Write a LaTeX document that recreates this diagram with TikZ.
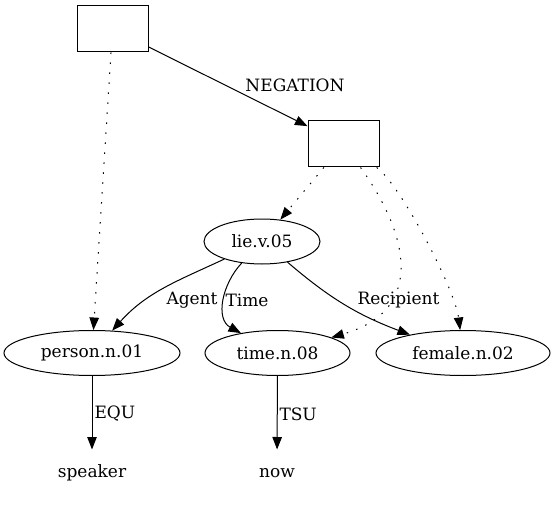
\documentclass[tikz,border=0pt]{standalone}
\usepackage{fontspec}
\setmainfont{DejaVu Serif}
\usetikzlibrary{arrows.meta,shapes.geometric}

\begin{document}
\begin{tikzpicture}[x=1pt, y=1pt, font=\fontsize{17}{20}\selectfont,
  >={Triangle[length=12.5pt, width=9.5pt]}, line width=1pt,
  drs/.style={rectangle, draw, minimum width=71pt, minimum height=46pt, inner sep=0pt},
  concept/.style={ellipse, draw, minimum height=45pt, inner sep=0pt},
  const/.style={minimum height=46pt, inner sep=0pt},
  lbl/.style={inner sep=0pt},
  link/.style={->, dash pattern=on 1.5pt off 8.5pt}]
  \useasboundingbox (0,0) rectangle (556,504);
  \node[drs] (b1) at (112.5,475) {};
  \node[drs] (b2) at (343.5,360) {};
  \node[concept, minimum width=116pt] (lie) at (262,262.5) {lie.v.05};
  \node[concept, minimum width=176pt] (person) at (92,151) {person.n.01};
  \node[concept, minimum width=145pt] (time) at (277.5,151) {time.n.08};
  \node[concept, minimum width=174pt] (female) at (463,151) {female.n.02};
  \node[const] (speaker) at (92,31) {speaker};
  \node[const] (now) at (277,31) {now};
  % relations
  \draw[->] (b1) -- (b2);
  \node[lbl] (neg) at (295,419) {NEGATION};
  \draw[->] (lie) to[out=205, in=48] (person);
  \node[lbl, anchor=east] (agent) at (218,204) {Agent};
  \draw[->] (lie) .. controls (222,220) and (215,185) .. (time);
  \node[lbl, anchor=west] (tm) at (225,204) {Time};
  \draw[->] (lie) to[bend right=10] (female);
  \node[lbl] (recip) at (398.5,204) {Recipient};
  \draw[->] (person) -- (speaker);
  \node[lbl, anchor=west] (equ) at (94,90) {EQU};
  \draw[->] (time) -- (now);
  \node[lbl, anchor=west] (tsu) at (279,90) {TSU};
  % box membership
  \draw[link] (b1) -- (person);
  \draw[link] (b2) -- (lie);
  \draw[link] (b2) .. controls (405,275) and (430,195) .. (time);
  \draw[link] (b2) .. controls (400,320) and (455,215) .. (female);
\end{tikzpicture}
\end{document}
